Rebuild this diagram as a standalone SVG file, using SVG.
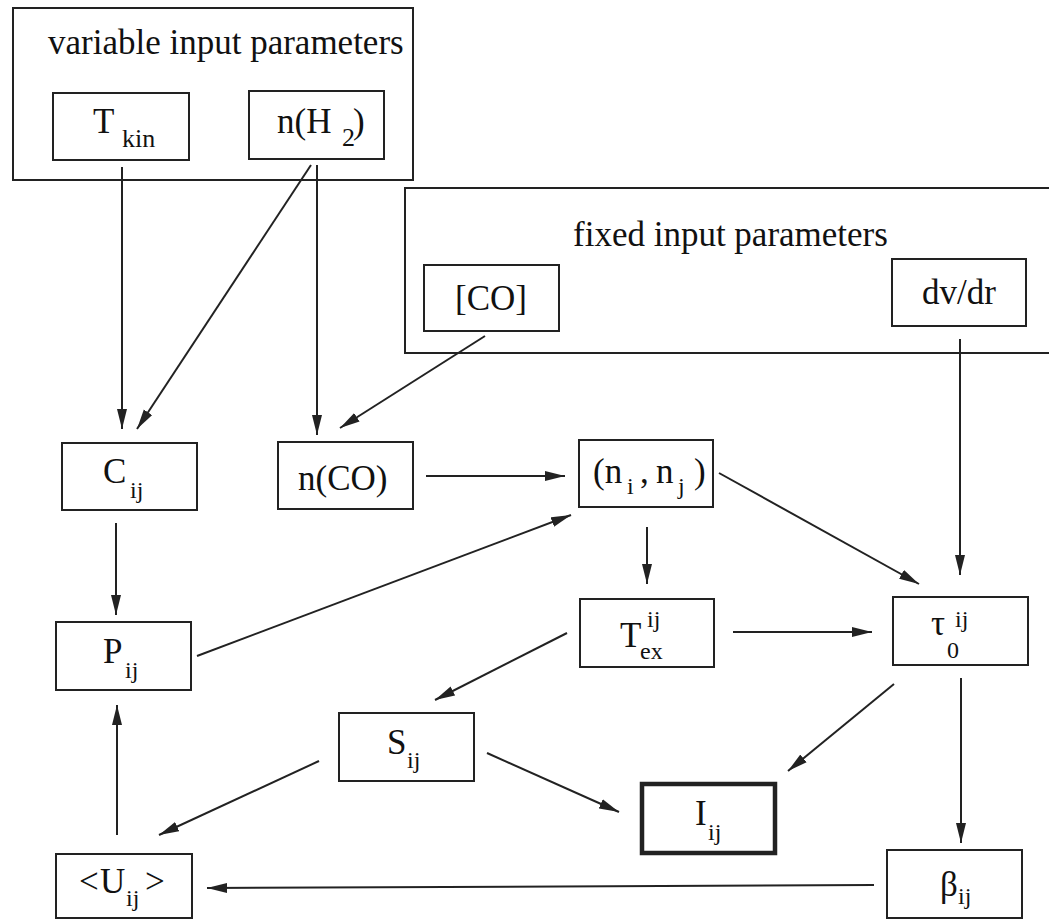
<svg xmlns="http://www.w3.org/2000/svg" width="1049" height="920" viewBox="0 0 1049 920" font-family="'Liberation Serif', 'Times New Roman', Tinos, 'DejaVu Serif', serif">
<defs>
<style>
.box{fill:none;stroke:#222;stroke-width:2}
.thick{fill:none;stroke:#222;stroke-width:4.5}
.t{font-family:'Liberation Serif','Times New Roman',Tinos,'DejaVu Serif',serif;font-size:35px;fill:#111}
.s{font-size:24px}
.c line{stroke:#222;stroke-width:2;marker-end:url(#ah)}
</style>
<marker id="ah" markerUnits="userSpaceOnUse" markerWidth="21" markerHeight="11" refX="20" refY="5.5" orient="auto">
<path d="M0,0.5 L20,5.5 L0,10.5 z" fill="#222"/>
</marker>
</defs>
<rect width="1049" height="920" fill="#fff"/>

<g id="variable-input-parameters">
<rect class="box" x="13" y="8" width="400" height="172"/>
<text class="t" x="48" y="54">variable input parameters</text>
</g>
<g id="T_kin">
<rect class="box" x="53" y="93" width="136" height="67"/>
<text class="t"><tspan x="93" y="133">T</tspan><tspan x="122" y="147" font-size="26">kin</tspan></text>
</g>
<g id="n_H2">
<rect class="box" x="249" y="91" width="135" height="68"/>
<text class="t"><tspan x="277" y="133">n(H</tspan><tspan x="342" y="146" font-size="26">2</tspan><tspan x="353" y="133">)</tspan></text>
</g>

<g id="fixed-input-parameters">
<rect class="box" x="405" y="188" width="660" height="165"/>
<text class="t" x="573" y="246">fixed input parameters</text>
</g>
<g id="CO">
<rect class="box" x="424" y="265" width="135" height="66"/>
<text class="t" x="491" y="310" text-anchor="middle">[CO]</text>
</g>
<g id="dv_dr">
<rect class="box" x="892" y="259" width="134" height="67"/>
<text class="t" x="959" y="304" text-anchor="middle">dv/dr</text>
</g>

<g id="C_ij">
<rect class="box" x="62" y="443" width="135" height="67"/>
<text class="t"><tspan x="103" y="483">C</tspan><tspan class="s" x="130" y="498">ij</tspan></text>
</g>
<g id="n_CO">
<rect class="box" x="278" y="442" width="135" height="67"/>
<text class="t" x="298" y="490">n(CO)</text>
</g>
<g id="n_i_n_j">
<rect class="box" x="579" y="440" width="134" height="67"/>
<text class="t"><tspan x="593" y="483">(n</tspan><tspan class="s" x="627" y="494">i</tspan><tspan x="640" y="483">,</tspan><tspan x="656" y="483">n</tspan><tspan class="s" x="678" y="494">j</tspan><tspan x="694" y="483">)</tspan></text>
</g>
<g id="T_ex">
<rect class="box" x="580" y="599" width="134" height="68"/>
<text class="t"><tspan x="620" y="647">T</tspan><tspan class="s" x="647" y="627">ij</tspan><tspan class="s" x="640" y="659">ex</tspan></text>
</g>
<g id="tau_0">
<rect class="box" x="893" y="597" width="135" height="68"/>
<text class="t"><tspan x="931" y="635">τ</tspan><tspan class="s" x="955" y="627">ij</tspan><tspan class="s" x="947" y="658">0</tspan></text>
</g>
<g id="P_ij">
<rect class="box" x="56" y="622" width="135" height="68"/>
<text class="t"><tspan x="103" y="663">P</tspan><tspan class="s" x="125" y="678">ij</tspan></text>
</g>
<g id="S_ij">
<rect class="box" x="339" y="713" width="135" height="68"/>
<text class="t"><tspan x="387" y="754">S</tspan><tspan class="s" x="407" y="768">ij</tspan></text>
</g>
<g id="I_ij">
<rect class="thick" x="642" y="784" width="133" height="69"/>
<text class="t"><tspan x="695" y="825">I</tspan><tspan class="s" x="708" y="840">ij</tspan></text>
</g>
<g id="U_ij">
<rect class="box" x="56" y="854" width="136" height="64"/>
<text class="t"><tspan x="79" y="893">&lt;</tspan><tspan x="100" y="893">U</tspan><tspan class="s" x="126" y="906">ij</tspan><tspan x="145" y="893">&gt;</tspan></text>
</g>
<g id="beta_ij">
<rect class="box" x="887" y="850" width="135" height="68"/>
<text class="t"><tspan x="940" y="896">β</tspan><tspan class="s" x="958" y="904">ij</tspan></text>
</g>

<g id="connectors" class="c">
<line x1="122" y1="167" x2="122" y2="429"/>
<line x1="311" y1="165" x2="137" y2="429"/>
<line x1="317" y1="165" x2="317" y2="435"/>
<line x1="485" y1="336" x2="340" y2="428"/>
<line x1="960" y1="339" x2="960" y2="575"/>
<line x1="116" y1="523" x2="116" y2="615"/>
<line x1="426" y1="476" x2="565" y2="476"/>
<line x1="197" y1="656" x2="571" y2="515"/>
<line x1="719" y1="473" x2="919" y2="584"/>
<line x1="647" y1="527" x2="647" y2="584"/>
<line x1="733" y1="632" x2="872" y2="632"/>
<line x1="567" y1="633" x2="435" y2="700"/>
<line x1="487" y1="753" x2="619" y2="812"/>
<line x1="319" y1="761" x2="159" y2="835"/>
<line x1="117" y1="835" x2="117" y2="705"/>
<line x1="874" y1="885" x2="207" y2="888"/>
<line x1="894" y1="684" x2="788" y2="771"/>
<line x1="961" y1="678" x2="961" y2="843"/>
</g>
</svg>
